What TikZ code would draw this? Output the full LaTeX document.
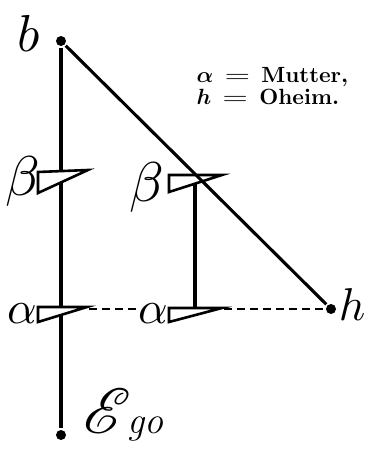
\documentclass[tikz,border=0pt]{standalone}
\usepackage{graphicx}
\usepackage{mathrsfs}
\newcommand{\wideeq}{\mathrel{\,\scalebox{1.5}[1]{=}\,}}
\begin{document}
\begin{tikzpicture}[x=1pt,y=-1pt,line width=3.1pt,
  dot/.style={circle,fill=black,draw=none,inner sep=0pt,minimum size=10pt},
  flag/.style={draw=black,fill=white,line width=2.6pt,line join=miter},
  lbl/.style={inner sep=0pt},
  leg/.style={inner sep=0pt,anchor=base west},
  dsh/.style={dash pattern=on 8pt off 5pt,line width=2.3pt}]
\useasboundingbox (0,0) rectangle (367,461);
% dots
\node[dot] (b) at (61,41) {};
\node[dot] (ego) at (61,435) {};
\node[dot] (h) at (331,309) {};
% coordinates
\coordinate (b2top) at (195,175);
\coordinate (a2top) at (195,308);
\coordinate (a1tip) at (89,309);
\coordinate (a2tip) at (224,309);
\coordinate (a2lab) at (139,309);
% labels
\node[lbl] (lb) at (29,33) {\scalebox{5.2}{$b$}};
\node[lbl] (lh) at (352,305) {\scalebox{4.6}{$h$}};
\node[lbl] (lbeta1) at (23,181) {\scalebox{5.6}{$\beta$}};
\node[lbl] (lbeta2) at (147,187) {\scalebox{5.6}{$\beta$}};
\node[lbl] (lalpha1) at (22,314) {\scalebox{4.6}{$\alpha$}};
\node[lbl] (lalpha2) at (153,314) {\scalebox{4.6}{$\alpha$}};
\node[lbl,anchor=base west] (lego) at (82,433) {\scalebox{6.4}{$\mathscr{E}$}\kern-4pt\fontsize{38}{38}\selectfont\itshape go};
\node[leg] (legend1) at (195,82) {\scalebox{2.2}{\boldmath$\alpha\wideeq\mathbf{Mutter},$}};
\node[leg] (legend2) at (195,104) {\scalebox{2.2}{\boldmath$h\wideeq\mathbf{Oheim.}$}};
% lines
\draw (b) -- (ego);
\draw (b2top) -- (a2top);
\draw[dsh] (a1tip) -- (a2lab);
\draw[dsh] (a2tip) -- (h);
% flags
\draw[flag] (38,172) -- (88,170) -- (38,193) -- cycle;
\draw[flag] (169,175) -- (222,175) -- (169,192) -- cycle;
\draw[flag] (38,307) -- (87,307) -- (38,322) -- cycle;
\draw[flag] (169,308) -- (222,308) -- (169,322) -- cycle;
% diagonal
\draw (b) -- (h);
\end{tikzpicture}
\end{document}
